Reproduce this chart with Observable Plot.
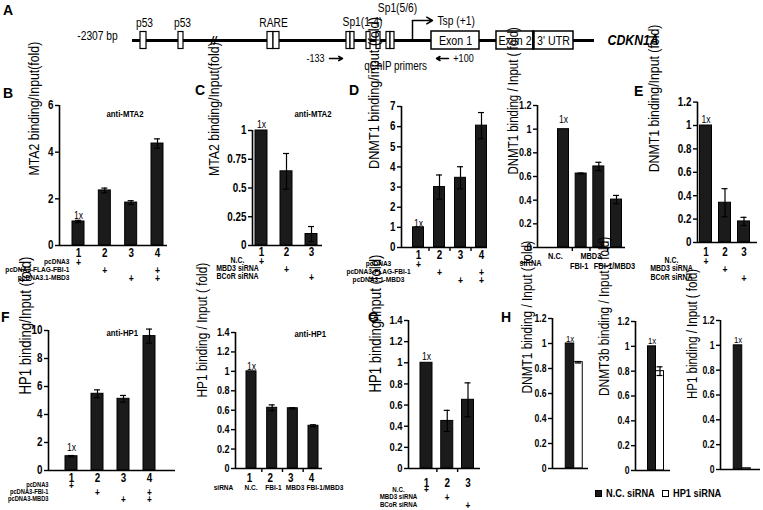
<!DOCTYPE html>
<html><head><meta charset="utf-8">
<script src="https://cdn.jsdelivr.net/npm/d3@7"></script>
<script src="https://cdn.jsdelivr.net/npm/@observablehq/plot@0.6"></script>
<style>
html,body{margin:0;padding:0;background:#fff;}
#fig{position:relative;width:763px;height:510px;overflow:hidden;font-family:'Liberation Sans',Arial,sans-serif;}
#fig svg{position:absolute;left:0;top:0;overflow:visible;background:transparent;}
.letter{position:absolute;font:bold 14px 'Liberation Sans',Arial,sans-serif;line-height:14px;}
.legend{position:absolute;left:595px;top:487px;display:flex;align-items:center;font-weight:bold;font-size:11px;white-space:nowrap;}
.legend .t{display:inline-block;transform:scaleX(0.84);transform-origin:left center;}
.sw{width:7px;height:7px;border:1px solid #000;margin-right:4px;box-sizing:border-box;}
</style></head><body><div id="fig"></div><script>
// ---------- Panel A : CDKN1A promoter schematic (schematic units) ----------
const aGeneSpan = {start: 0, end: 462};
const aSites = [
  {start: 8, end: 14}, {start: 46, end: 51},            // p53
  {start: 135, end: 141}, {start: 141, end: 147},       // RARE
  {start: 214, end: 218}, {start: 218, end: 222}, {start: 234, end: 238}, {start: 244, end: 248}, // Sp1(1-4)
  {start: 254, end: 258}, {start: 258, end: 262}        // Sp1(5/6)
];
const aSiteLabels = [
  {name: "p53", pos: 12, level: 18}, {name: "p53", pos: 50, level: 18},
  {name: "RARE", pos: 141, level: 18}, {name: "Sp1(1-4)", pos: 230, level: 19},
  {name: "Sp1(5/6)", pos: 265, level: 33}
];
const aBreak = [{pos: 81}];
const aTsp = [{pos: 280, to: 300, height: 20, label: "Tsp (+1)"}];
const aExons = [
  {name: "Exon 1", start: 299, end: 347},
  {name: "Exon 2", start: 364, end: 401},
  {name: "3' UTR", start: 401, end: 441}
];
const aGene = [{name: "CDKN1A", pos: 475}];
const aStart = [{label: "-2307 bp", pos: -35, level: 5}];
const aPrimers = [
  {label: "-133", pos: 183, from: 197, to: 210},
  {label: "+100", pos: 331, from: 316, to: 304}
];
const aPrimerLabel = [{label: "qChIP primers", pos: 263}];

// ---------- Panel B ----------
const bCats = ["1", "2", "3", "4"];
const bValues = [1.03, 2.36, 1.84, 4.37];
const bErrors = [0.05, 0.1, 0.08, 0.2];
const bConditions = ["pcDNA3", "pcDNA3-FLAG-FBI-1", "pcDNA3.1-MBD3"];
const bDesign = [[1, 0, 0, 0], [0, 1, 0, 1], [0, 0, 1, 1]];
// ---------- Panel C ----------
const cCats = ["1", "2", "3"];
const cValues = [1.0, 0.645, 0.10];
const cErrors = [0, 0.155, 0.065];
const cConditions = ["N.C.", "MBD3 siRNA", "BCoR siRNA"];
const cDesign = [[1, 0, 0], [0, 1, 0], [0, 0, 1]];
// ---------- Panel D (left) ----------
const dCats = ["1", "2", "3", "4"];
const dValues = [1.0, 3.0, 3.46, 6.05];
const dErrors = [0, 0.6, 0.55, 0.65];
const dConditions = ["pcDNA3", "pcDNA3-FLAG-FBI-1", "pcDNA3.1-MBD3"];
const dDesign = [[1, 0, 0, 0], [0, 1, 0, 1], [0, 0, 1, 1]];
// ---------- Panel D (right) ----------
const d2Cats = ["N.C.", "FBI-1", "MBD3", "FBI-1/MBD3"];
const d2Values = [1.0, 0.625, 0.685, 0.405];
const d2Errors = [0, 0.004, 0.035, 0.035];
// ---------- Panel E ----------
const eCats = ["1", "2", "3"];
const eValues = [1.0, 0.34, 0.18];
const eErrors = [0, 0.12, 0.035];
const eConditions = ["N.C.", "MBD3 siRNA", "BCoR siRNA"];
const eDesign = [[1, 0, 0], [0, 1, 0], [0, 0, 1]];
// ---------- Panel F (left) ----------
const fCats = ["1", "2", "3", "4"];
const fValues = [1.02, 5.48, 5.12, 9.6];
const fErrors = [0.05, 0.28, 0.24, 0.5];
const fConditions = ["pcDNA3", "pcDNA3-FBI-1", "pcDNA3-MBD3"];
const fDesign = [[1, 0, 0, 0], [0, 1, 0, 1], [0, 0, 1, 1]];
// ---------- Panel F (right) ----------
const f2Cats = ["1", "2", "3", "4"];
const f2Sirna = ["N.C.", "FBI-1", "MBD3", "FBI-1/MBD3"];
const f2Values = [1.0, 0.625, 0.62, 0.44];
const f2Errors = [0, 0.03, 0.006, 0.01];
// ---------- Panel G ----------
const gCats = ["1", "2", "3"];
const gValues = [1.0, 0.45, 0.65];
const gErrors = [0, 0.1, 0.16];
const gConditions = ["N.C.", "MBD3 siRNA", "BCoR siRNA"];
const gDesign = [[1, 0, 0], [0, 1, 0], [0, 0, 1]];
// ---------- Panel H ----------
const hCats = ["N.C. siRNA", "HP1 siRNA"];
const hDnmt1 = [1.0, 0.85], hDnmt1Err = [0, 0.006];
const hDnmt3b = [1.0, 0.80], hDnmt3bErr = [0, 0.035];
const hHp1 = [1.0, 0.01], hHp1Err = [0, 0];

const ticks6 = [0, 2, 4, 6];
const ticks1q = [0, 0.25, 0.5, 0.75, 1];
const ticks7 = [0, 1, 2, 3, 4, 5, 6, 7];
const ticks12 = [0, 0.2, 0.4, 0.6, 0.8, 1, 1.2];
const ticks10 = [0, 2, 4, 6, 8, 10];
const ticks14 = [0, 0.2, 0.4, 0.6, 0.8, 1, 1.2, 1.4];

const FONT = "'Liberation Sans',Arial,sans-serif";
const NARROW = 0.82;
const BAR = "#1b1b1b";
const W = 763, H = 510;
const fig = document.getElementById("fig");
const style = () => ({fontFamily: FONT, fontSize: "10px", background: "transparent", overflow: "visible"});
const fmt = d => String(+(+d).toFixed(2));

function barPanel(o) {
  const n = o.cats.length;
  const k = (o.cn - o.c1) / (n - 1);
  const xDomain = [1 - (o.c1 - o.x0) / k, n + (o.x1 - o.cn) / k];
  const half = o.bw / 2 / k, cap = (o.cap || 3) / k;
  const rows = o.cats.map((c, i) => ({i: i + 1, cat: c, v: o.values[i], e: o.errors[i], fill: o.fills ? o.fills[i] : BAR}));
  const withErr = rows.filter(d => d.e > 0);
  const marks = [
    Plot.rectY(rows, {x1: d => d.i - half, x2: d => d.i + half, y: "v", fill: "fill", stroke: "#000", strokeWidth: 1}),
    Plot.ruleX(withErr, {x: "i", y1: d => d.v - d.e, y2: d => d.v + d.e, stroke: "#000", strokeWidth: 1.2}),
    Plot.ruleY(withErr, {y: d => d.v + d.e, x1: d => d.i - cap, x2: d => d.i + cap, stroke: "#000", strokeWidth: 1.2}),
    Plot.ruleY(withErr, {y: d => d.v - d.e, x1: d => d.i - cap, x2: d => d.i + cap, stroke: "#000", strokeWidth: 1.2}),
    Plot.ruleX([xDomain[0]], {stroke: "#000", strokeWidth: 1.6}),
    Plot.ruleY([0], {stroke: "#000", strokeWidth: 1.6}),
    Plot.axisY({ticks: o.yticks, tickSize: 4, tickPadding: 2, tickFormat: fmt, fontSize: o.tickFont || 12, fontWeight: "bold", label: null, strokeWidth: 1.4}),
    Plot.text([o.ylabel], {frameAnchor: "left", dx: o.ylabelX - o.x0, dy: o.ylabelDy || 0, rotate: -90, fontSize: o.ylabelSize, fill: "#000"}),
    Plot.text([rows[0]], {x: "i", y: "v", text: () => "1x", dy: o.oneDy, lineAnchor: "bottom", fontSize: o.oneSize || 10.5, fill: "#000"})
  ];
  if (o.bounds) marks.push(Plot.axisX({ticks: d3.range(1.5, n), tickSize: 4, tickFormat: () => "", label: null, strokeWidth: 1.4}));
  if (o.title) marks.push(Plot.text([o.title], {frameAnchor: "top-left", dx: o.titleX - o.x0, dy: o.titleY - o.yTop, fontWeight: "bold", fontSize: 9.5, lineAnchor: "middle", fill: "#000"}));
  for (const lr of (o.labelRows || [])) {
    marks.push(Plot.text(rows.filter(d => lr.labels[d.i - 1]), {
      x: "i", text: d => lr.labels[d.i - 1], frameAnchor: "bottom", dy: lr.y - o.yBot, dx: lr.dx || 0,
      textAnchor: lr.anchor || "middle", fontSize: lr.size, fontWeight: lr.weight || "bold", lineAnchor: "middle", fill: "#000"}));
  }
  (o.rowNames || []).forEach((name, j) => {
    marks.push(Plot.text([name], {frameAnchor: "bottom-left", dx: o.rowX - o.x0, dy: o.rowY[j] - o.yBot,
      textAnchor: o.rowAnchor || "middle", fontSize: o.rowSize || 8, fontWeight: "bold", lineAnchor: "middle", fill: "#000"}));
  });
  const p = Plot.plot({
    width: W, height: H, marginLeft: o.x0, marginRight: W - o.x1, marginTop: o.yTop, marginBottom: H - o.yBot,
    x: {domain: xDomain, axis: o.bounds ? undefined : null},
    y: {domain: [0, o.ymax]},
    color: {type: "identity"},
    style: style(), marks
  });
  fig.appendChild(p);
}
const plusRows = (design, y, size) => design.map((row, j) => ({labels: row.map(v => v ? "+" : null), y: y[j], size: size || 10.5}));

// ---------- draw panel A ----------
fig.appendChild(Plot.plot({
  width: W, height: H, marginLeft: 0, marginRight: 0, marginTop: 0, marginBottom: H - 95,
  x: {domain: [-132, 631], axis: null}, y: {domain: [-55, 40], axis: null},
  style: style(),
  marks: [
    Plot.ruleY([aGeneSpan], {y: () => 0, x1: "start", x2: "end", stroke: "#000", strokeWidth: 3}),
    Plot.rect(aSites, {x1: "start", x2: "end", y1: () => -8.5, y2: () => 8.5, fill: "white", stroke: "#000", strokeWidth: 1.2}),
    Plot.text(aSiteLabels, {x: "pos", y: "level", text: "name", fontSize: 12.5}),
    Plot.text(aBreak, {x: "pos", y: () => 0, text: () => "//", fontWeight: "bold", fontStyle: "italic", fontSize: 13}),
    Plot.ruleX(aTsp, {x: "pos", y1: () => 0, y2: "height", stroke: "#000", strokeWidth: 1.5}),
    Plot.arrow(aTsp, {x1: "pos", x2: "to", y1: "height", y2: "height", stroke: "#000", strokeWidth: 1.5, headLength: 7}),
    Plot.text(aTsp, {x: "to", y: "height", text: "label", dx: 5, textAnchor: "start", fontSize: 12.5}),
    Plot.rect(aExons, {x1: "start", x2: "end", y1: () => -9, y2: () => 9, fill: "white", stroke: "#000", strokeWidth: 1.5}),
    Plot.ruleX([aExons[1]], {x: "end", y1: () => -9, y2: () => 9, stroke: "#000", strokeWidth: 2.5}),
    Plot.text(aExons, {x: d => (d.start + d.end) / 2, y: () => 0, text: "name", fontSize: 13}),
    Plot.text(aGene, {x: "pos", y: () => 0, text: "name", textAnchor: "start", fontWeight: "bold", fontStyle: "italic", fontSize: 15}),
    Plot.text(aStart, {x: "pos", y: "level", text: "label", fontSize: 12.5}),
    Plot.arrow(aPrimers, {x1: "from", x2: "to", y1: () => -18, y2: () => -18, stroke: "#000", strokeWidth: 1.5, headLength: 6}),
    Plot.text(aPrimers, {x: "pos", y: () => -18, text: "label", fontSize: 11}),
    Plot.text(aPrimerLabel, {x: "pos", y: () => -26, text: "label", fontSize: 12})
  ]
}));

// ---------- B ----------
barPanel({cats: bCats, values: bValues, errors: bErrors, x0: 59, x1: 167, c1: 78, cn: 157, bw: 12,
  yTop: 105, yBot: 245, ymax: 6, yticks: ticks6, ylabel: "MTA2 binding/Input(fold)", ylabelX: 34, ylabelSize: 15,
  title: "anti-MTA2", titleX: 106, titleY: 113, oneDy: -2,
  labelRows: [{labels: bCats, y: 253, size: 12}, ...plusRows(bDesign, [262, 270, 278])],
  rowNames: bConditions, rowY: [261, 269, 277], rowX: 69, rowAnchor: "end", rowSize: 8});
// ---------- C ----------
barPanel({cats: cCats, values: cValues, errors: cErrors, x0: 252, x1: 322, c1: 261, cn: 311, bw: 12,
  yTop: 130, yBot: 245, ymax: 1, yticks: ticks1q, ylabel: "MTA2 binding/Input(fold)", ylabelX: 214, ylabelSize: 15,
  ylabelDy: -12, title: "anti-MTA2", titleX: 294, titleY: 113, oneDy: -3,
  labelRows: [{labels: cCats, y: 252, size: 12}, ...plusRows(cDesign, [261, 269, 277])],
  rowNames: cConditions, rowY: [260, 268, 276], rowX: 237, rowAnchor: "middle", rowSize: 8.5});
// ---------- D left ----------
barPanel({cats: dCats, values: dValues, errors: dErrors, x0: 401, x1: 487, c1: 418, cn: 481, bw: 11,
  yTop: 106, yBot: 247, ymax: 7, yticks: ticks7, ylabel: "DNMT1 binding/input (fold)", ylabelX: 374, ylabelSize: 15.5,
  ylabelDy: -8, oneDy: 0, bounds: true,
  labelRows: [{labels: dCats, y: 255, size: 12}, ...plusRows(dDesign, [264, 272, 280])],
  rowNames: dConditions, rowY: [263, 271, 279], rowX: 378, rowAnchor: "middle", rowSize: 8});
// ---------- D right ----------
barPanel({cats: d2Cats, values: d2Values, errors: d2Errors, x0: 537, x1: 625, c1: 563, cn: 616, bw: 11,
  yTop: 105, yBot: 247, ymax: 1.2, yticks: ticks12, tickFont: 11, ylabel: "DNMT1 binding / Input ( fold)", ylabelX: 513,
  ylabelSize: 14, ylabelDy: -2, oneDy: -6, bounds: true,
  labelRows: [
    {labels: d2Cats.map((c, i) => i % 2 === 0 ? c : null), y: 256, dx: -8, size: 9},
    {labels: d2Cats.map((c, i) => i % 2 === 1 ? c : null), y: 266, dx: -2, size: 9}
  ],
  rowNames: ["siRNA"], rowY: [263], rowX: 530, rowAnchor: "middle", rowSize: 9});
// ---------- E ----------
barPanel({cats: eCats, values: eValues, errors: eErrors, x0: 697, x1: 757, c1: 705.5, cn: 743.5, bw: 12,
  yTop: 101.6, yBot: 242, ymax: 1.2, yticks: ticks12, ylabel: "DNMT1 binding/Input (fold)", ylabelX: 654, ylabelSize: 15,
  oneDy: -3,
  labelRows: [{labels: eCats, y: 252, size: 12}, ...plusRows(eDesign, [261, 269, 278])],
  rowNames: eConditions, rowY: [260, 268, 277], rowX: 671, rowAnchor: "middle", rowSize: 8.5});
// ---------- F left ----------
barPanel({cats: fCats, values: fValues, errors: fErrors, x0: 48, x1: 175, c1: 71, cn: 149, bw: 12,
  yTop: 330, yBot: 470, ymax: 10, yticks: ticks10, ylabel: "HP1 binding/Input (fold)", ylabelX: 25, ylabelSize: 16,
  ylabelDy: -6, title: "anti-HP1", titleX: 106, titleY: 332, oneDy: -5,
  labelRows: [{labels: fCats, y: 478, size: 12}, ...plusRows(fDesign, [485, 492, 499], 10)],
  rowNames: fConditions, rowY: [484, 491, 498], rowX: 48, rowAnchor: "end", rowSize: 7});
// ---------- F right ----------
barPanel({cats: f2Cats, values: f2Values, errors: f2Errors, x0: 235, x1: 322, c1: 251, cn: 313, bw: 10,
  yTop: 332, yBot: 468, ymax: 1.4, yticks: ticks14, tickFont: 11, ylabel: "HP1 binding / Input ( fold)", ylabelX: 202,
  ylabelSize: 14.5, ylabelDy: -3, title: "anti-HP1", titleX: 294, titleY: 333, oneDy: -1, bounds: true,
  labelRows: [{labels: f2Cats, y: 478, size: 12, dx: -2}, {labels: f2Sirna, y: 487, dx: -7, anchor: "start", size: 8}],
  rowNames: ["siRNA"], rowY: [487], rowX: 223, rowAnchor: "middle", rowSize: 8});
// ---------- G ----------
barPanel({cats: gCats, values: gValues, errors: gErrors, x0: 408, x1: 480, c1: 426, cn: 467.5, bw: 12,
  yTop: 320, yBot: 468, ymax: 1.4, yticks: ticks14, tickFont: 11.5, ylabel: "HP1 binding/Input (fold)", ylabelX: 375,
  ylabelSize: 16, ylabelDy: -2, oneDy: -3, bounds: true,
  labelRows: [{labels: gCats, y: 483, size: 12}, ...plusRows(gDesign, [489, 497, 505], 10)],
  rowNames: gConditions, rowY: [489, 496, 504], rowX: 398, rowAnchor: "middle", rowSize: 7.5});
// ---------- H ----------
barPanel({cats: hCats, values: hDnmt1, errors: hDnmt1Err, fills: [BAR, "white"], x0: 552, x1: 588, c1: 569.5, cn: 578, bw: 8.5,
  yTop: 318, yBot: 468, ymax: 1.2, yticks: ticks12, tickFont: 10.5, ylabel: "DNMT1 binding / Input ( fold)", ylabelX: 527,
  ylabelSize: 14.5, oneDy: -2, oneSize: 9.5});
barPanel({cats: hCats, values: hDnmt3b, errors: hDnmt3bErr, fills: [BAR, "white"], x0: 635, x1: 670, c1: 651.5, cn: 659.5, bw: 8,
  yTop: 321, yBot: 470, ymax: 1.2, yticks: ticks12, tickFont: 10.5, ylabel: "DNMT3b binding / Input ( fold)", ylabelX: 604,
  ylabelSize: 14.5, oneDy: -2, oneSize: 9.5});
barPanel({cats: hCats, values: hHp1, errors: hHp1Err, fills: [BAR, "white"], x0: 720, x1: 760, c1: 737.5, cn: 746, bw: 8.5,
  yTop: 320, yBot: 469, ymax: 1.2, yticks: ticks12, tickFont: 10.5, ylabel: "HP1 binding / Input ( fold)", ylabelX: 692,
  ylabelSize: 14, ylabelDy: 4, oneDy: -2, oneSize: 9.5});

// ---------- narrow (Arial-Narrow-like) rendering of all chart texts ----------
fig.querySelectorAll("svg text").forEach(t => {
  const len = t.getComputedTextLength();
  if (len > 0) {
    t.setAttribute("textLength", (len * NARROW).toFixed(2));
    t.setAttribute("lengthAdjust", "spacingAndGlyphs");
  }
});

// ---------- panel letters & legend ----------
const letters = [["A", 3, 3], ["B", 3, 86], ["C", 195, 83], ["D", 349, 83], ["E", 634, 84], ["F", 1, 310], ["G", 368, 310], ["H", 501, 310]];
for (const [t, l, tp] of letters) {
  const s = document.createElement("div"); s.className = "letter"; s.textContent = t;
  s.style.left = l + "px"; s.style.top = tp + "px"; fig.appendChild(s);
}
const lg = document.createElement("div"); lg.className = "legend";
lg.innerHTML = `<span class="sw" style="background:${BAR}"></span><span class="t" style="width:50px">${hCats[0]}</span><span class="sw" style="background:#fff;margin-left:6px"></span><span class="t">${hCats[1]}</span>`;
fig.appendChild(lg);
</script></body></html>
